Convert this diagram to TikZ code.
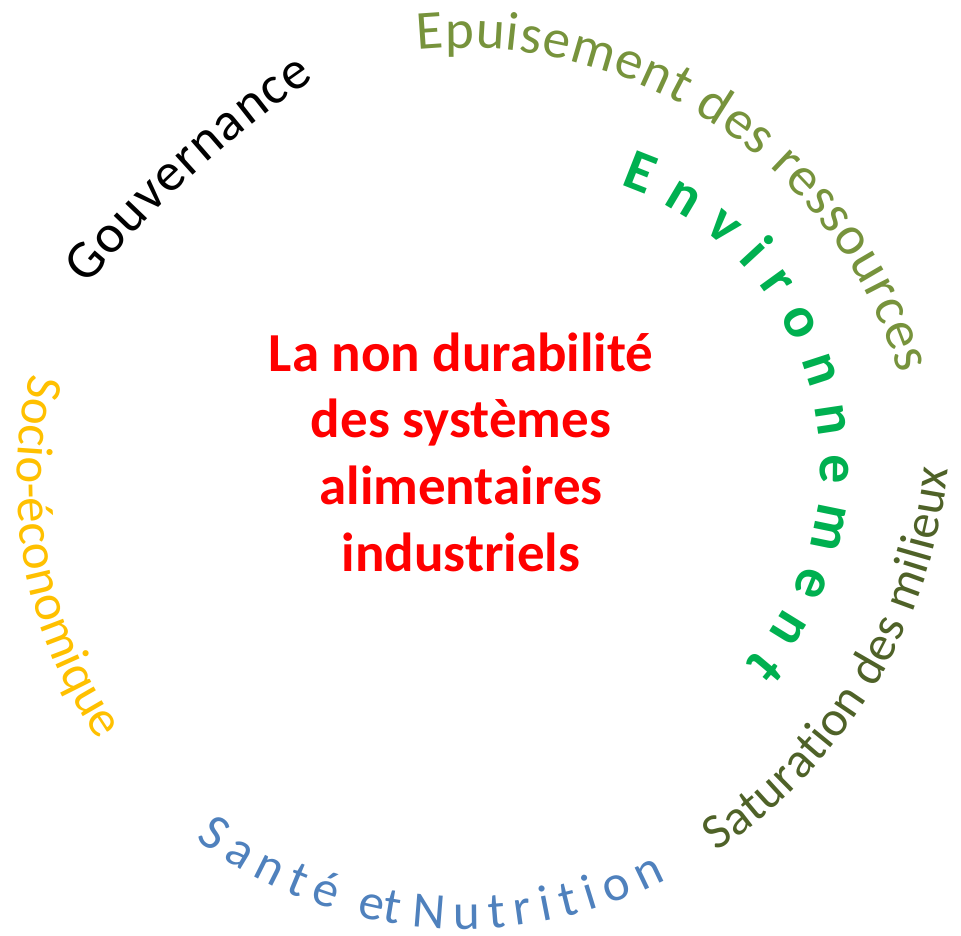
\documentclass[tikz,border=0pt]{standalone}
\usepackage{fontspec}
\setmainfont{Carlito}
\usepackage{tikz}
\usetikzlibrary{decorations.text}
\definecolor{titlered}{HTML}{FF0000}
\definecolor{resgreen}{HTML}{77933C}
\definecolor{envgreen}{HTML}{00B050}
\definecolor{satgreen}{HTML}{4F6228}
\definecolor{healthblue}{HTML}{4F81BD}
\definecolor{socioamber}{HTML}{FFC000}
\tikzset{
  ringtext/.style={decorate, decoration={text along path, text align={fit to path}, text color=#1}},
  ringword/.style={decorate, decoration={text along path, text align=center, text color=#1}},
  title/.style={font=\fontsize{55}{66.7}\selectfont\bfseries, text=titlered, align=center, inner sep=0pt},
}

\begin{document}
\begin{tikzpicture}[x=1pt, y=1pt]
\useasboundingbox (0,0) rectangle (961,936);

\node[title] (core) at (461,484) {La non durabilité\\des systèmes\\alimentaires\\industriels};

% upper arcs, read clockwise
\path[ringtext=black, decoration={text={|\fontsize{54}{60}\selectfont|Gouvernance}}]
  ([shift={(955,-72)}]140.2:1129) arc[start angle=140.2, end angle=124.6, radius=1129];
\path[ringtext=resgreen, decoration={text={|\fontsize{55}{60}\selectfont|Epuisement des ressources}}]
  ([shift={(462,432)}]95.6:456) arc[start angle=95.6, end angle=16.6, radius=456];
\path[ringtext=envgreen, decoration={text={|\bfseries\fontsize{58}{60}\selectfont|Environnement}}]
  ([shift={(524.5,470.5)}]71.2:296) arc[start angle=71.2, end angle=-42, radius=296];

% lower arcs, read counter-clockwise
\path[ringtext=socioamber, decoration={text={|\fontsize{51}{60}\selectfont|Socio-économique}}]
  ([shift={(468,454)}]166.1:451) arc[start angle=166.1, end angle=214, radius=451];
\path[ringtext=healthblue, decoration={text={|\fontsize{51}{60}\selectfont|Santé}}]
  ([shift={(463,451)}]-127:444) arc[start angle=-127, end angle=-107, radius=444];
\path[ringword=healthblue, decoration={text={|\fontsize{51}{60}\selectfont|et}}]
  ([shift={(463,451)}]-106.15:444) arc[start angle=-106.15, end angle=-96.15, radius=444];
\path[ringtext=healthblue, decoration={text={|\fontsize{51}{60}\selectfont|Nutrition}}]
  ([shift={(463,451)}]-96.7:444) arc[start angle=-96.7, end angle=-62.7, radius=444];
\path[ringtext=satgreen, decoration={text={|\fontsize{50}{60}\selectfont|Saturation des milieux}}]
  ([shift={(425,522)}]-56.3:526) arc[start angle=-56.3, end angle=-6.0, radius=526];

\end{tikzpicture}
\end{document}
